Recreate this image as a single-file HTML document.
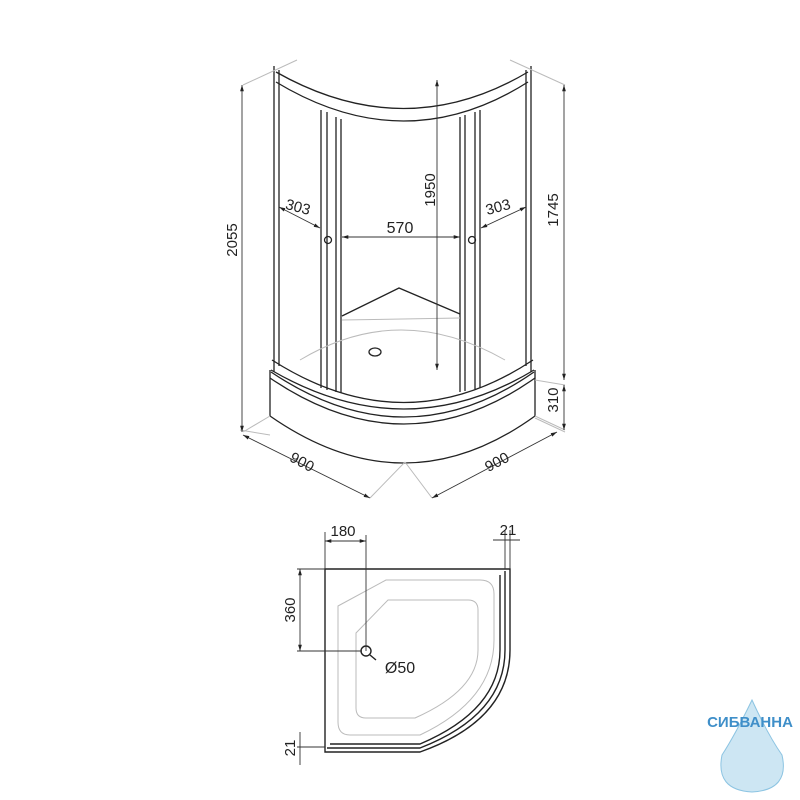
<!DOCTYPE html>
<html><head><meta charset="utf-8"><style>
html,body{margin:0;padding:0;background:#fff;}
svg{display:block;}
text{font-family:"Liberation Sans",sans-serif;fill:#222;}
</style></head><body>
<svg width="800" height="800" viewBox="0 0 800 800" xmlns="http://www.w3.org/2000/svg">
<defs>
<marker id="a" viewBox="0 0 10 10" refX="10" refY="5" markerWidth="7" markerHeight="7" orient="auto-start-reverse"><path d="M0,2 L10,5 L0,8 Z" fill="#222"/></marker>
</defs>
<g fill="none" stroke="#222" stroke-width="1.3">
<line x1="274" y1="66" x2="274" y2="372"/><line x1="279" y1="70" x2="279" y2="366"/>
<line x1="526" y1="70" x2="526" y2="366"/><line x1="531" y1="66" x2="531" y2="372"/>
<path d="M276,72 Q405,145 528,72"/>
<path d="M276,82 Q405,160 528,82"/>
<line x1="321" y1="110" x2="321" y2="388"/><line x1="327" y1="112" x2="327" y2="390"/>
<line x1="336" y1="117" x2="336" y2="392"/><line x1="341" y1="119" x2="341" y2="393"/>
<line x1="460" y1="117" x2="460" y2="392"/><line x1="465" y1="115" x2="465" y2="391"/>
<line x1="475" y1="112" x2="475" y2="389"/><line x1="480" y1="110" x2="480" y2="388"/>
<circle cx="328" cy="240" r="3.5"/><circle cx="472" cy="240" r="3.5"/>
<path d="M342,316 L399,288 L460,314"/>
<ellipse cx="375" cy="352" rx="6" ry="4"/>
<path d="M272,360 Q405,445 533,360"/>
<path d="M271,370 Q405,448 534,370"/>
<path d="M271,372 Q405,462 534,372"/>
<path d="M270,378 Q405,470 535,378"/>
<line x1="270" y1="370" x2="270" y2="416"/><line x1="535" y1="370" x2="535" y2="416"/>
<path d="M270,416 Q405,510 535,416"/>
</g>
<g fill="none" stroke="#bbb" stroke-width="1">
<path d="M342,320 L460,318"/><path d="M300,360 Q400,300 505,360"/>
<line x1="297" y1="60" x2="243" y2="85"/><line x1="510" y1="60" x2="565" y2="85"/>
<line x1="535" y1="380" x2="565" y2="385"/><line x1="535" y1="416" x2="565" y2="430"/>
<line x1="270" y1="416" x2="243" y2="432"/><line x1="535" y1="418" x2="565" y2="432"/>
<line x1="405" y1="462" x2="370" y2="498"/><line x1="405" y1="462" x2="432" y2="498"/>
<line x1="240" y1="430" x2="270" y2="435"/>
</g>
<g stroke="#333" stroke-width="0.9" fill="none" marker-start="url(#a)" marker-end="url(#a)">
<line x1="242" y1="85" x2="242" y2="432"/>
<line x1="564" y1="85" x2="564" y2="380"/>
<line x1="564" y1="385" x2="564" y2="430"/>
<line x1="437" y1="80" x2="437" y2="370"/>
<line x1="342" y1="237" x2="460" y2="237"/>
<line x1="279" y1="207" x2="320" y2="228"/>
<line x1="526" y1="207" x2="481" y2="228"/>
<line x1="243" y1="435" x2="370" y2="498"/>
<line x1="432" y1="498" x2="557" y2="432"/>
</g>
<g font-size="15">
<text x="232" y="240" text-anchor="middle" transform="rotate(-90 232 240)" dy="5">2055</text>
<text x="553" y="210" text-anchor="middle" transform="rotate(-90 553 210)" dy="5">1745</text>
<text x="553" y="400" text-anchor="middle" transform="rotate(-90 553 400)" dy="5">310</text>
<text x="430" y="190" text-anchor="middle" transform="rotate(-90 430 190)" dy="5">1950</text>
<text x="400" y="233" text-anchor="middle" font-size="16">570</text>
<text x="298" y="212" text-anchor="middle" transform="rotate(15 298 207)">303</text>
<text x="498" y="212" text-anchor="middle" transform="rotate(-15 498 207)">303</text>
<text x="302" y="467" text-anchor="middle" transform="rotate(28 302 462)">900</text>
<text x="497" y="467" text-anchor="middle" transform="rotate(-28 497 462)">900</text>
</g>
<g fill="none" stroke="#bbb" stroke-width="1">
<path d="M338,606 L386,580 H480 Q494,580 494,594 V640 Q494,700 420,735 H350 Q338,735 338,722 Z"/>
<path d="M356,633 L388,600 H468 Q478,600 478,610 V650 Q478,690 415,718 H366 Q356,718 356,708 Z"/>
</g>
<g fill="none" stroke="#222" stroke-width="1.4">
<path d="M325,569 H510 V650 Q510,720 420,752 H325 Z"/>
<path d="M505,571 V650 Q505,715 420,748 H327"/>
<path d="M500,575 V650 Q500,710 420,744 H330"/>
<circle cx="366" cy="651" r="5"/>
<line x1="370" y1="655" x2="376" y2="660"/>
</g>
<g stroke="#333" stroke-width="0.9" fill="none">
<line x1="325" y1="532" x2="325" y2="569"/><line x1="366" y1="535" x2="366" y2="651"/>
<line x1="325" y1="541" x2="366" y2="541" marker-start="url(#a)" marker-end="url(#a)"/>
<line x1="505" y1="530" x2="505" y2="569"/><line x1="510" y1="530" x2="510" y2="569"/>
<line x1="493" y1="540" x2="520" y2="540"/>
<line x1="297" y1="569" x2="325" y2="569"/><line x1="297" y1="651" x2="362" y2="651"/>
<line x1="300" y1="569" x2="300" y2="651" marker-start="url(#a)" marker-end="url(#a)"/>
<line x1="297" y1="747" x2="325" y2="747"/><line x1="300" y1="732" x2="300" y2="765"/>
</g>
<g font-size="15">
<text x="343" y="536" text-anchor="middle">180</text>
<text x="508" y="535" text-anchor="middle">21</text>
<text x="400" y="673" text-anchor="middle" font-size="16">Ø50</text>
<text x="290" y="610" text-anchor="middle" transform="rotate(-90 290 610)" dy="5">360</text>
<text x="290" y="748" text-anchor="middle" transform="rotate(-90 290 748)" dy="5">21</text>
</g>
<path d="M752,700 Q735,735 722,755 Q715,790 752,792 Q790,790 782,755 Q768,735 752,700 Z" fill="#cde6f3" stroke="#8cc4e2"/>
<text x="750" y="727" text-anchor="middle" font-size="15" font-weight="bold" style="fill:#3f8fc9">СИБВАННА</text>
</svg>
</body></html>
